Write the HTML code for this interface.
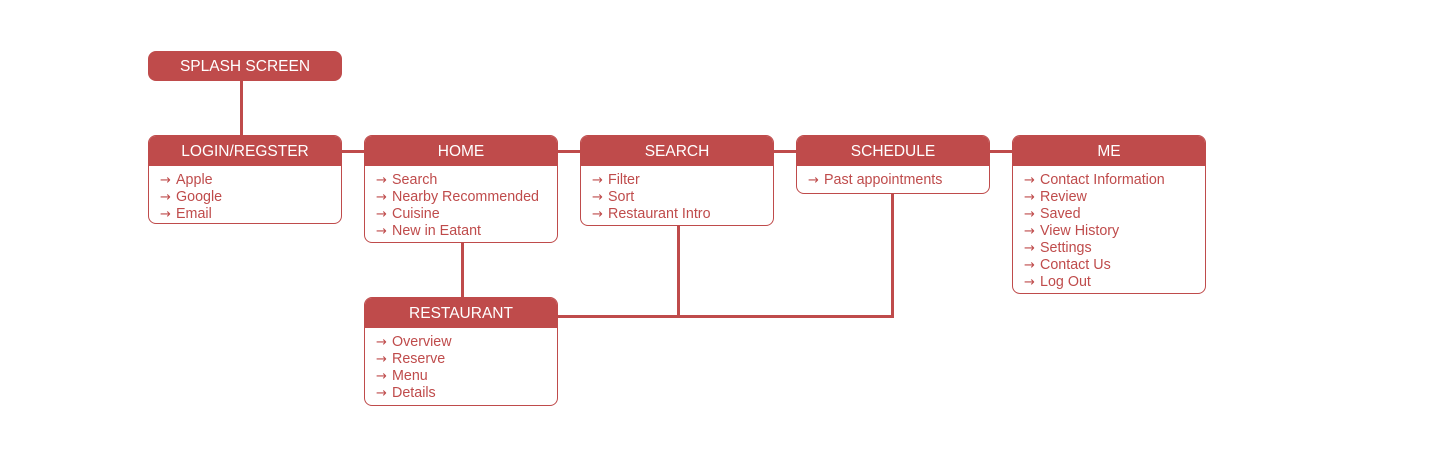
<!DOCTYPE html>
<html><head><style>
body{margin:0;width:1440px;height:458px;background:#fff;position:relative;font-family:"Liberation Sans",sans-serif;overflow:hidden}
.b{position:absolute;border:1px solid #bf4b4b;border-radius:8px;background:#fff;box-sizing:border-box;overflow:hidden}
.h{background:#bf4b4b;color:#fff;height:30px;line-height:32px;text-align:center;font-size:15.5px}
.i{color:#bf4b4b;font-size:14.3px;line-height:17px;padding:6px 0 0 11px}
.a{font-family:"DejaVu Sans",sans-serif;font-size:13px;margin-right:4px;display:inline-block;width:12px}
.l{position:absolute;background:#bf4b4b}
</style></head><body>
<div class="l" style="left:240px;top:80px;width:3px;height:56px"></div>
<div class="l" style="left:340px;top:150px;width:674px;height:3px"></div>
<div class="l" style="left:461px;top:240px;width:3px;height:58px"></div>
<div class="l" style="left:677px;top:224px;width:3px;height:94px"></div>
<div class="l" style="left:891px;top:192px;width:3px;height:126px"></div>
<div class="l" style="left:555px;top:315px;width:339px;height:3px"></div>
<div class="b" style="left:148px;top:51px;width:194px;height:30px;border:none"><div class="h">SPLASH SCREEN</div></div>
<div class="b" style="left:148px;top:135px;width:194px;height:89px"><div class="h">LOGIN/REGSTER</div><div class="i"><span class="a">→</span>Apple<br><span class="a">→</span>Google<br><span class="a">→</span>Email</div></div>
<div class="b" style="left:364px;top:135px;width:194px;height:108px"><div class="h">HOME</div><div class="i"><span class="a">→</span>Search<br><span class="a">→</span>Nearby Recommended<br><span class="a">→</span>Cuisine<br><span class="a">→</span>New in Eatant</div></div>
<div class="b" style="left:580px;top:135px;width:194px;height:91px"><div class="h">SEARCH</div><div class="i"><span class="a">→</span>Filter<br><span class="a">→</span>Sort<br><span class="a">→</span>Restaurant Intro</div></div>
<div class="b" style="left:796px;top:135px;width:194px;height:59px"><div class="h">SCHEDULE</div><div class="i"><span class="a">→</span>Past appointments</div></div>
<div class="b" style="left:1012px;top:135px;width:194px;height:159px"><div class="h">ME</div><div class="i"><span class="a">→</span>Contact Information<br><span class="a">→</span>Review<br><span class="a">→</span>Saved<br><span class="a">→</span>View History<br><span class="a">→</span>Settings<br><span class="a">→</span>Contact Us<br><span class="a">→</span>Log Out</div></div>
<div class="b" style="left:364px;top:297px;width:194px;height:109px"><div class="h">RESTAURANT</div><div class="i"><span class="a">→</span>Overview<br><span class="a">→</span>Reserve<br><span class="a">→</span>Menu<br><span class="a">→</span>Details</div></div>
</body></html>
